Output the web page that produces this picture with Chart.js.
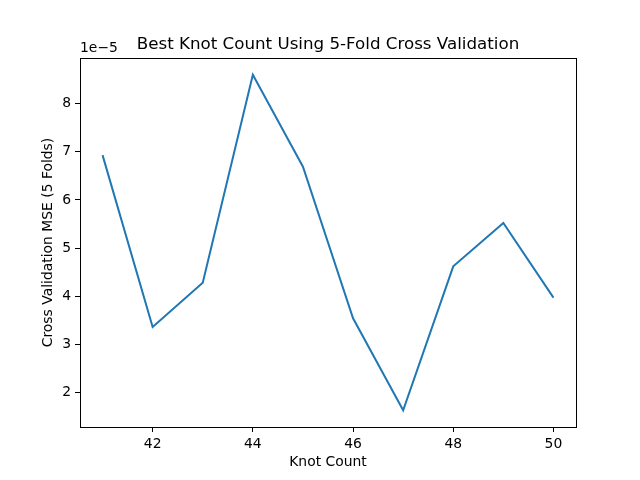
<!DOCTYPE html>
<html>
<head>
<meta charset="utf-8">
<script src="https://cdn.jsdelivr.net/npm/chart.js@4.4.0/dist/chart.umd.min.js"></script>
<style>
  html, body { margin: 0; padding: 0; background: #fff; }
  #wrap { width: 640px; height: 480px; }
</style>
</head>
<body>
<div id="wrap"><canvas id="chart"></canvas></div>
<script>
// DATA
const knotCounts = [41, 42, 43, 44, 45, 46, 47, 48, 49, 50];
const cvMse = [6.93e-5, 3.36e-5, 4.28e-5, 8.60e-5, 6.69e-5, 3.54e-5, 1.63e-5, 4.62e-5, 5.52e-5, 3.97e-5];
const xTicks = [42, 44, 46, 48, 50];
const yTicks = [2e-5, 3e-5, 4e-5, 5e-5, 6e-5, 7e-5, 8e-5];

const titleText = 'Best Knot Count Using 5-Fold Cross Validation';
const xLabel = 'Knot Count';
const yLabel = 'Cross Validation MSE (5 Folds)';
const offsetText = '1e\u22125';

const FONT = '"DejaVu Sans", sans-serif';

// matplotlib-like 5% margins
function padRange(vals) {
    const lo = Math.min(...vals), hi = Math.max(...vals);
    const m = (hi - lo) * 0.05;
    return [lo - m, hi + m];
}
const [xMin, xMax] = padRange(knotCounts);
const [yMin, yMax] = padRange(cvMse);

// frame + text drawn around the plot
const decorations = {
    id: 'decorations',
    afterDraw(chart) {
        const { ctx, chartArea: a } = chart;
        ctx.save();
        ctx.strokeStyle = '#000';
        ctx.lineWidth = 1;
        ctx.strokeRect(Math.round(a.left) + 0.5, Math.round(a.top) + 0.5,
            Math.round(a.right - a.left), Math.round(a.bottom - a.top));

        ctx.fillStyle = '#000';
        ctx.font = '16.7px ' + FONT;
        ctx.textAlign = 'center';
        ctx.textBaseline = 'alphabetic';
        ctx.fillText(titleText, (a.left + a.right) / 2, 49);

        ctx.font = '13.9px ' + FONT;
        ctx.textAlign = 'left';
        ctx.fillText(offsetText, a.left, 52);

        ctx.textAlign = 'center';
        ctx.textBaseline = 'middle';
        ctx.fillText(xLabel, (a.left + a.right) / 2, 462);

        ctx.translate(48, (a.top + a.bottom) / 2);
        ctx.rotate(-Math.PI / 2);
        ctx.fillText(yLabel, 0, 0);
        ctx.restore();
    }
};

new Chart(document.getElementById('chart'), {
    type: 'line',
    data: {
        datasets: [{
            data: knotCounts.map((k, i) => ({ x: k, y: cvMse[i] })),
            borderColor: '#1f77b4',
            borderWidth: 2,
            pointRadius: 0,
            tension: 0,
            fill: false
        }]
    },
    options: {
        responsive: true,
        maintainAspectRatio: false,
        animation: false,
        events: [],
        layout: { padding: { top: 58, right: 64, left: 0, bottom: 0 } },
        plugins: { legend: { display: false }, tooltip: { enabled: false } },
        scales: {
            x: {
                type: 'linear',
                min: xMin,
                max: xMax,
                afterBuildTicks: s => { s.ticks = xTicks.map(v => ({ value: v })); },
                afterFit: s => { s.height = 53; },
                grid: { drawOnChartArea: false, tickLength: 5, color: '#000' },
                border: { display: false },
                ticks: { color: '#000', padding: 4, maxRotation: 0, font: { family: FONT, size: 13.9 } }
            },
            y: {
                type: 'linear',
                min: yMin,
                max: yMax,
                afterBuildTicks: s => { s.ticks = yTicks.map(v => ({ value: v })); },
                afterFit: s => { s.width = 80; },
                grid: { drawOnChartArea: false, tickLength: 5, color: '#000' },
                border: { display: false },
                ticks: {
                    color: '#000', padding: 4,
                    font: { family: FONT, size: 13.9 },
                    callback: v => String(Math.round(v * 1e5))
                }
            }
        }
    },
    plugins: [decorations]
});
</script>
</body>
</html>
